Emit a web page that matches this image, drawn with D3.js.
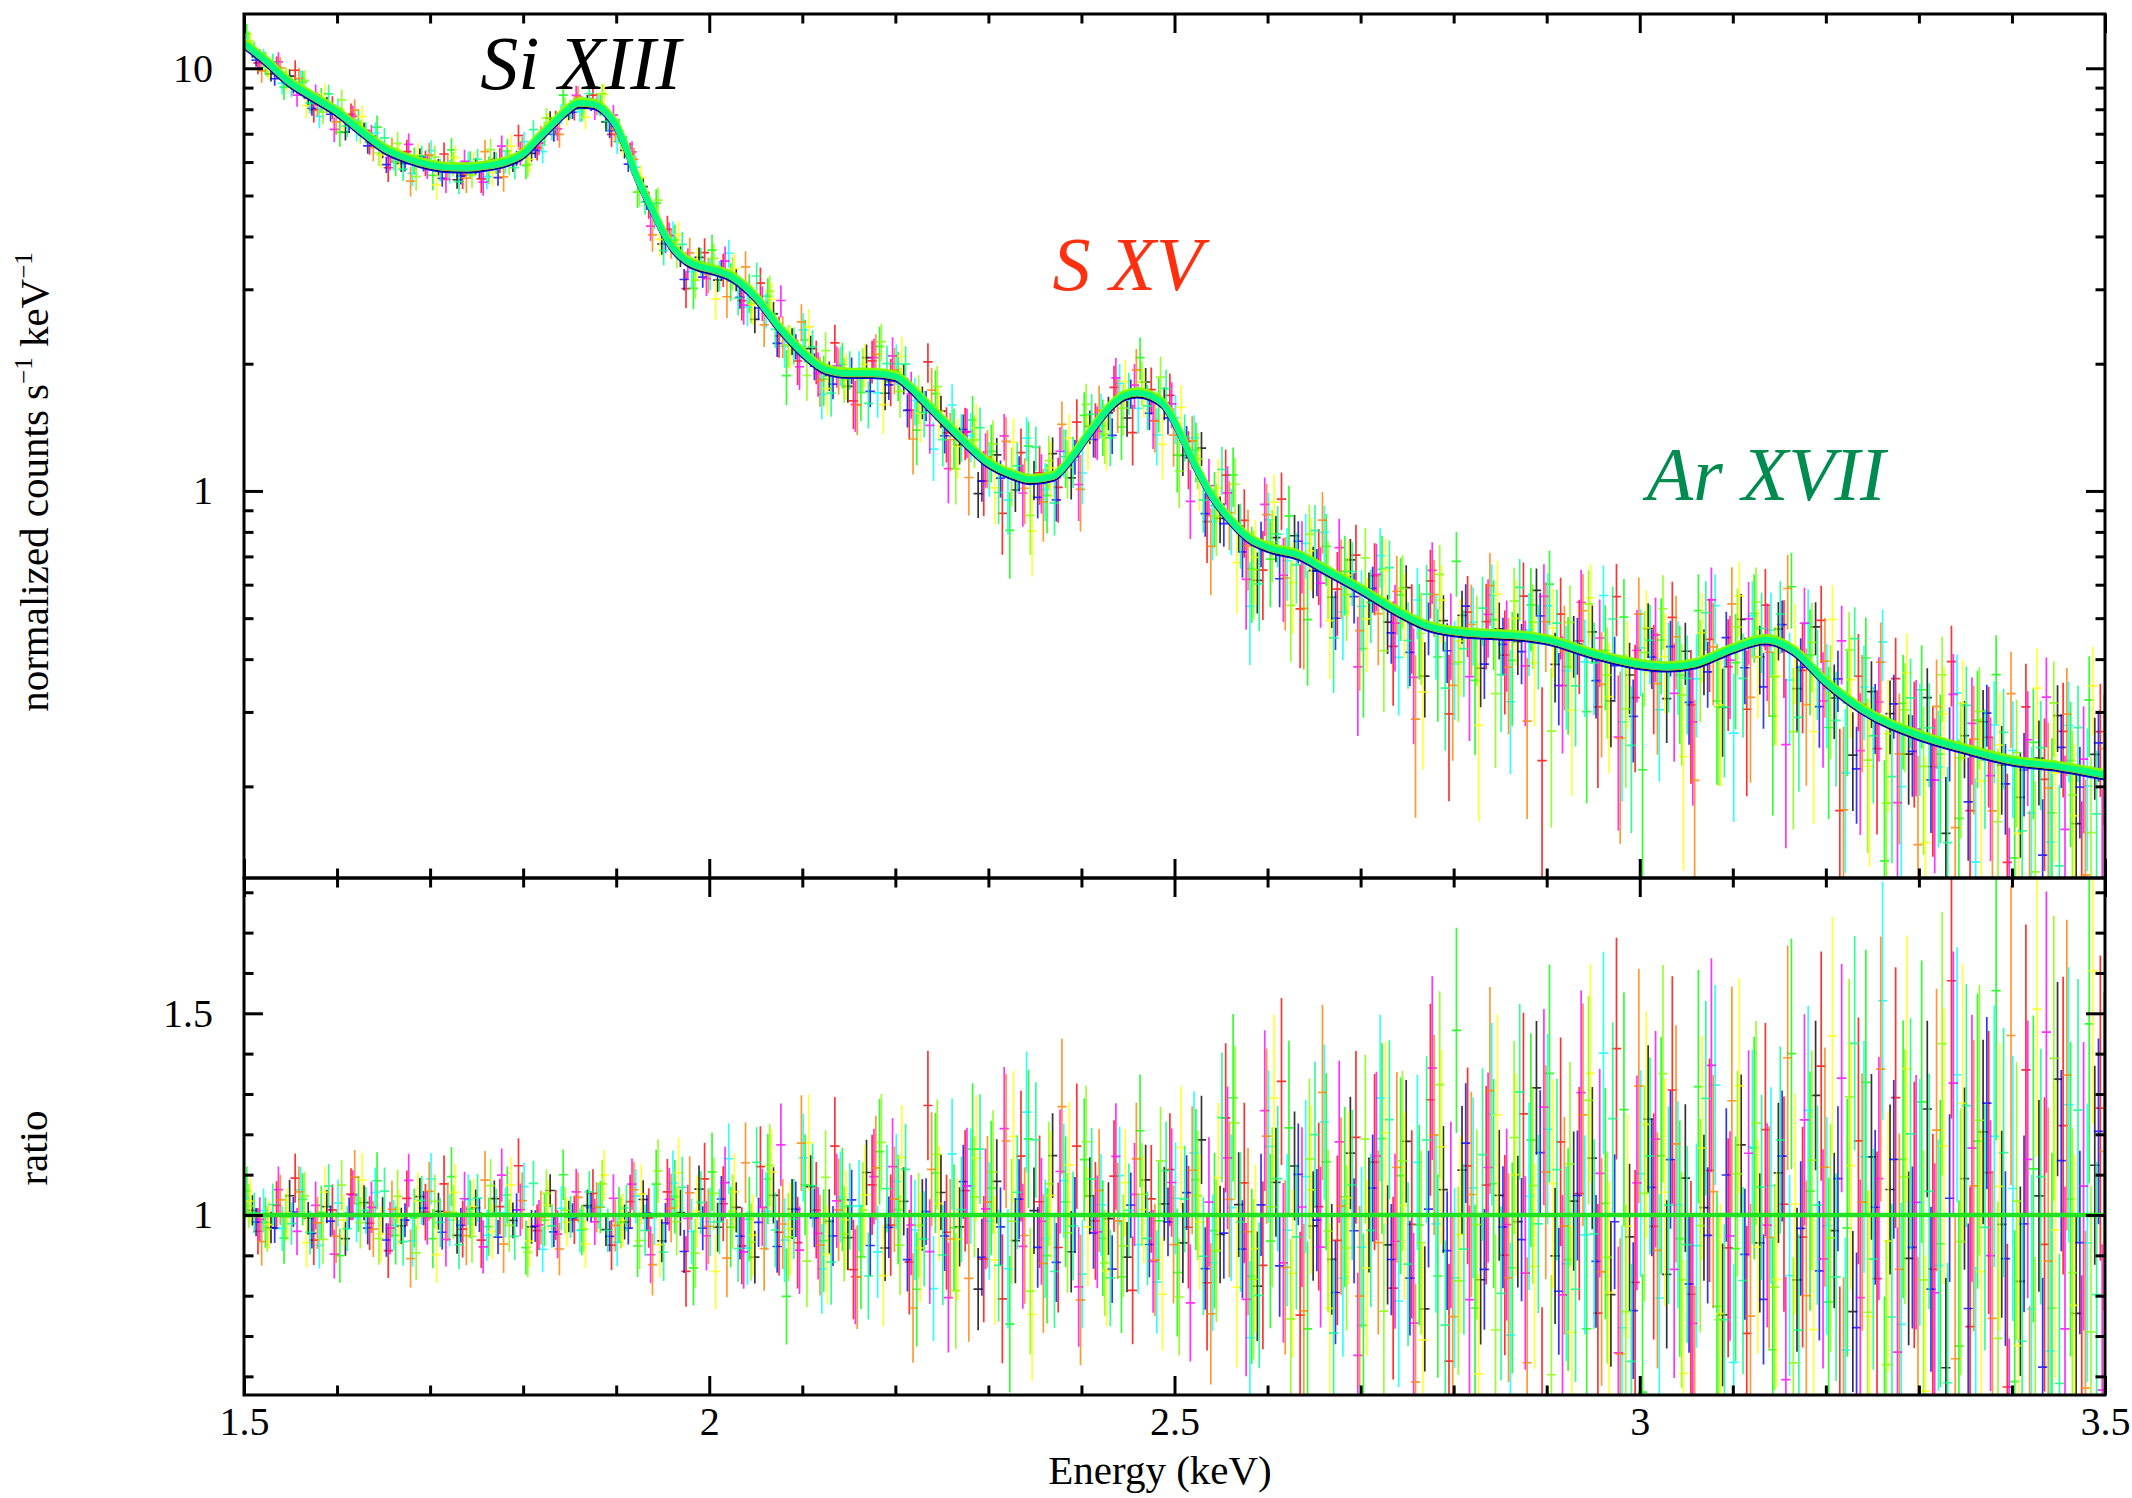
<!DOCTYPE html>
<html><head><meta charset="utf-8">
<script src="https://cdn.jsdelivr.net/npm/d3@7"></script>
<style>
body{margin:0;background:#fff}
svg text{font-family:"Liberation Serif","Times New Roman",Times,serif}
</style>
</head><body>
<svg id="c" width="2132" height="1498"></svg>
<script>
// ---------- fitted model (normalized counts s^-1 keV^-1) ----------
const modelEnergy = [1.50,1.525,1.547,1.575,1.60,1.625,1.65,1.675,1.70,1.72,1.74,1.76,1.78,1.80,1.815,1.83,1.845,1.86,1.875,1.89,1.90,1.91,1.92,1.93,1.94,1.95,1.96,1.975,1.99,2.00,2.025,2.05,2.075,2.10,2.125,2.15,2.175,2.20,2.215,2.23,2.25,2.27,2.30,2.325,2.345,2.37,2.39,2.41,2.43,2.445,2.46,2.475,2.49,2.50,2.52,2.54,2.56,2.58,2.60,2.635,2.66,2.70,2.74,2.77,2.80,2.84,2.88,2.90,2.95,3.00,3.03,3.06,3.10,3.135,3.165,3.20,3.24,3.30,3.35,3.40,3.45,3.50];
const modelFlux = [11.4,10.3,9.3,8.5,7.86,7.1,6.45,6.1,5.88,5.8,5.79,5.85,5.97,6.25,6.75,7.29,7.85,8.24,8.2,7.8,7.29,6.5,5.65,5.05,4.55,4.1,3.77,3.5,3.38,3.34,3.19,2.86,2.43,2.12,1.93,1.89,1.89,1.86,1.76,1.63,1.47,1.33,1.16,1.09,1.06,1.08,1.2,1.38,1.57,1.67,1.70,1.67,1.58,1.45,1.17,0.97,0.85,0.77,0.733,0.70,0.652,0.583,0.516,0.479,0.463,0.456,0.450,0.443,0.41,0.387,0.382,0.389,0.422,0.443,0.418,0.352,0.302,0.263,0.244,0.229,0.222,0.212];

// ---------- spectral bins (keV) and typical relative 1-sigma error per bin ----------
const binEnergy = [1.51,1.53,1.55,1.57,1.59,1.61,1.63,1.65,1.67,1.69,
1.71,1.73,1.75,1.77,1.79,1.81,1.83,1.85,1.87,1.89,
1.91,1.93,1.95,1.97,1.99,2.01,2.03,2.05,2.07,2.09,
2.11,2.13,2.15,2.17,2.19,2.21,2.23,2.25,2.27,2.29,
2.31,2.33,2.35,2.37,2.39,2.41,2.43,2.45,2.47,2.49,
2.51,2.53,2.55,2.57,2.59,2.61,2.63,2.65,2.67,2.69,
2.71,2.73,2.75,2.77,2.79,2.81,2.83,2.85,2.87,2.89,
2.91,2.93,2.95,2.97,2.99,3.01,3.03,3.05,3.07,3.09,
3.11,3.13,3.15,3.17,3.19,3.21,3.23,3.25,3.27,3.29,
3.31,3.33,3.35,3.37,3.39,3.41,3.43,3.45,3.47,3.49];
const binRelErr = [.050,.052,.053,.054,.055,.056,.058,.059,.060,.061,
.061,.061,.060,.060,.059,.056,.054,.052,.052,.054,
.058,.064,.071,.076,.078,.081,.083,.087,.093,.099,
.104,.106,.107,.108,.109,.113,.118,.124,.131,.136,
.139,.141,.143,.140,.135,.127,.120,.116,.116,.122,
.132,.146,.161,.173,.181,.180,.180,.181,.183,.186,
.190,.197,.203,.207,.210,.212,.214,.216,.218,.221,
.225,.230,.235,.239,.242,.244,.245,.244,.241,.236,
.232,.230,.232,.238,.247,.257,.266,.274,.281,.287,
.292,.297,.301,.305,.309,.313,.317,.321,.325,.329];
const binHalfWidth = 0.005;

// ---------- data sets ----------
const datasetColors = ["#000000","#ff0000","#00ff00","#0000ff","#00ffff","#ff00ff","#ffff00","#ff8000","#80ff00","#00ff80"];
const datasetErrScale = [0.75,1.15,1.2,0.7,1.05,1.1,1.15,1.2,1.1,1.0];
const datasetModelNorm = [0.99,1.0,1.01,0.984,0.997,1.0,1.004,1.0,1.018,1.004];
const datasetBinShift = [-0.001,0.005,-0.007,0.003,-0.009,0.007,-0.003,0.009,-0.005,0.001];
// residuals per bin, in tenths of sigma
const residuals = [
"3 -8 12 -2 5 -14 7 0 -6 10 2 -11 4 9 -3 -7 15 -1 6 -9 -4 8 -12 1 11 -5 3 -16 7 2 9 -2 -7 13 -10 4 0 6 -3 -18 8 -6 1 14 -9 5 -1 -12 10 3 -7 17 -4 2 -13 6 9 -2 -8 11 0 -5 12 -15 4 7 -10 3 -1 19 -6 2 8 -11 -3 13 -8 5 1 -14 10 -4 6 -9 16 -2 -12 7 3 -5 12 -17 4 9 -1 -7 2 14 -10 5",
"-7 4 15 -10 2 8 -3 -13 6 1 11 -5 -9 3 18 -6 0 -2 9 -12 5 -1 7 -16 10 3 -8 12 -4 -6 1 14 -11 6 -2 -9 20 -3 4 -7 -13 9 2 -5 11 -1 7 -14 3 8 -2 -10 13 4 -6 16 -12 1 -3 9 6 -8 -1 12 -15 5 3 -4 10 -19 7 2 -9 15 -6 -1 11 -7 4 -3 -11 8 1 -2 13 -16 6 -5 9 0 -4 17 -8 3 -12 10 -2 6 -14 7",
"10 -3 -9 6 1 -15 4 12 -7 -1 -8 13 2 -4 7 -12 -2 16 -6 3 0 -10 9 5 -14 11 -3 -1 8 -17 6 -5 3 -8 12 1 -13 7 -2 10 4 -16 11 -6 2 9 -4 -11 15 -1 -9 5 -2 14 -7 -3 10 -13 6 2 -12 8 4 -1 -6 18 -9 3 -5 7 13 -4 -10 1 9 -15 5 -2 11 -8 -3 6 -12 14 2 -7 -1 10 -16 4 8 -2 -9 5 15 -11 3 -6 1 12",
"-5 -9 2 -12 -4 1 -8 -15 -3 4 -10 -6 0 -13 3 -7 -11 -2 5 -14 -8 1 -4 -17 -6 7 -9 -3 -12 2 -1 -7 5 -10 -4 -14 1 -6 9 -11 -3 4 -8 -12 0 -5 -16 3 -9 -2 6 -13 -4 -7 2 -10 8 -1 -15 -3 5 -8 -11 1 -6 12 -9 -2 -4 10 -12 3 -7 -1 -14 4 8 -10 -3 6 -6 -13 9 -2 -8 5 -15 1 7 -4 -9 2 -11 13 -5 -1 -17 6 -3 9",
"8 2 -6 11 -13 5 -1 9 -4 -10 14 -2 6 -8 1 12 -15 3 -7 4 -11 7 0 10 -5 -2 16 -9 1 -6 13 -12 4 2 -8 7 -3 -14 11 5 -1 -9 17 -4 6 -11 2 8 -6 -13 3 10 -7 1 -16 9 -2 5 12 -8 -4 14 -10 6 -1 -7 3 11 -13 2 9 -5 -2 16 -11 4 -8 1 -3 13 -15 7 3 -6 10 -1 -12 5 18 -9 1 -4 11 -14 6 2 -7 -10 8 -2",
"-2 11 -7 4 -16 8 3 -5 13 -1 -9 6 -12 15 2 -4 -8 10 -3 7 12 -14 5 -1 -6 9 -10 2 17 -8 -4 3 -13 8 10 -2 -7 -15 5 1 14 -5 -1 7 -12 -3 11 4 -9 6 -15 2 8 -11 13 -6 1 -4 9 -17 7 -3 -12 16 0 -9 5 -1 -6 11 -8 12 4 -13 3 7 -5 -10 14 -2 6 -1 -16 9 -4 12 -7 3 -11 1 -6 10 5 -3 -19 4 13 -8 2 -12",
"6 -4 1 -11 9 -2 13 -7 -1 5 -14 8 3 -6 11 -10 4 -3 -12 16 -2 7 -9 12 1 -15 6 -5 10 -3 15 -8 -1 4 -12 11 -6 2 -4 9 -7 12 -15 3 8 -2 -10 6 1 -14 11 -1 5 -9 -4 14 -7 3 -11 2 -6 9 1 -13 7 -2 -16 10 4 -5 3 -11 13 -7 -1 8 2 -14 6 -9 12 -3 -6 1 -10 15 4 -8 -2 11 -13 5 8 -4 2 -9 14 -1 -6 16",
"-11 6 9 -3 -8 14 -5 2 -15 8 1 -7 12 -10 5 -1 -13 7 3 -4 9 -16 2 6 -3 -11 13 -8 -2 15 -6 1 -12 9 3 -17 8 -4 -10 2 11 -3 -7 16 -13 4 -1 10 -8 -5 7 -14 2 -2 9 -6 -11 14 1 -9 -3 5 -17 8 -10 2 12 -6 -14 4 -1 9 -5 -12 11 -3 6 -16 2 10 -9 -2 14 -7 4 -15 1 11 -4 -13 6 -10 2 -7 12 -16 -3 9 -11 4",
"4 -6 -1 8 -10 12 -3 -9 7 -14 5 1 -8 11 -4 -15 9 2 -6 13 -3 -9 14 -2 -11 6 1 -7 12 -5 -10 8 -4 1 15 -6 -2 11 -13 3 7 -1 -12 5 -3 13 -9 -6 4 10 -14 3 -5 12 -8 1 -13 7 -2 -4 9 -11 6 -3 14 -7 -1 -12 8 3 -16 5 11 -4 -9 2 13 -6 -1 -10 4 9 -7 -14 5 -2 10 -8 -12 3 -5 13 -2 7 -9 1 -13 11 -4 -8",
"1 5 -4 -8 13 -6 2 10 -11 6 -3 -12 7 1 -9 14 -5 -1 11 -7 3 -6 -13 9 4 -2 -10 15 -4 -1 7 -11 2 -14 6 10 -5 -8 1 12 -9 4 13 -10 -2 7 -13 1 -5 9 3 -7 15 -1 -11 5 -3 11 -16 4 -2 12 -6 9 -13 -4 7 -9 14 -1 5 -8 -2 10 -15 6 1 -3 12 -11 -7 3 8 -12 1 -6 16 -4 -9 7 2 -14 9 -1 5 -10 3 -13 8 -6"
];

// ---------- axes and annotations ----------
const xMajor = [1.5,2,2.5,3,3.5];
const xMinor = [1.6,1.7,1.8,1.9,2.1,2.2,2.3,2.4,2.6,2.7,2.8,2.9,3.1,3.2,3.3,3.4];
const fluxMajor = [1,10];
const fluxMinor = [0.2,0.3,0.4,0.5,0.6,0.7,0.8,0.9,2,3,4,5,6,7,8,9];
const ratioMajor = [1,1.5];
const ratioMinor = [0.6,0.7,0.8,0.9,1.1,1.2,1.3,1.4,1.6,1.7,1.8];
const lineLabels = ["Si XIII","S XV","Ar XVII"];
const lineLabelEnergy = [1.754,2.369,3.0075];
const lineLabelFlux = [8.93,2.99,0.951];
const lineLabelColors = ["#000000","#ff3010","#008c50"];

// ---------- layout ----------
const L=244, R=2105, T=14, M=878, B=1395;
const svg = d3.select("#c");
const x = d3.scaleLinear().domain([1.5,3.5]).range([L,R]);
const yTop = d3.scaleLog().domain([0.1214,13.44]).range([M,T]);
const yRat = d3.scaleLinear().domain([0.5538,1.8354]).range([B,M]);
const modelLog = d3.scaleLinear().domain(modelEnergy).range(modelFlux.map(Math.log10)).clamp(true);

const defs = svg.append("defs");
defs.append("clipPath").attr("id","clipTop").append("rect").attr("x",L).attr("y",T).attr("width",R-L).attr("height",M-T);
defs.append("clipPath").attr("id","clipBot").append("rect").attr("x",L).attr("y",M).attr("width",R-L).attr("height",B-M);

const gTop = svg.append("g").attr("clip-path","url(#clipTop)");
const gBot = svg.append("g").attr("clip-path","url(#clipBot)");

const sets = residuals.map((str,k)=>{
  const z = str.trim().split(/\s+/).map(Number);
  return binEnergy.map((e,i)=>{
    if (z[i]===undefined || isNaN(z[i])) return null;
    const E = e + datasetBinShift[k];
    const s = binRelErr[i]*datasetErrScale[k];
    const r = 1 + z[i]/10*s;
    const m = datasetModelNorm[k]*Math.pow(10, modelLog(E));
    return {E, r, s, m};
  }).filter(d=>d);
});

sets.forEach((pts,k)=>{
  let dTop = "", dBot = "";
  pts.forEach(p=>{
    const px = x(p.E), x0 = x(p.E-binHalfWidth), x1 = x(p.E+binHalfWidth);
    const c = p.m*p.r, lo = Math.max(p.m*(p.r-p.s), 0.01), hi = p.m*(p.r+p.s);
    dTop += `M${px},${yTop(lo)}V${yTop(hi)}M${x0},${yTop(c)}H${x1}`;
    dBot += `M${px},${yRat(p.r-p.s)}V${yRat(p.r+p.s)}M${x0},${yRat(p.r)}H${x1}`;
  });
  gTop.append("path").attr("d",dTop).attr("fill","none").attr("stroke",datasetColors[k]).attr("stroke-width",1.7).attr("stroke-opacity",0.8);
  gBot.append("path").attr("d",dBot).attr("fill","none").attr("stroke",datasetColors[k]).attr("stroke-width",1.7).attr("stroke-opacity",0.8);
});

// model curves (dark ones first, green ones on top)
const order = [3,0,5,1,4,6,7,2,8,9];
const modelWidth = [4,5,5,4,5,5,5,5.5,6,6];
order.forEach(k=>{
  const line = d3.line().x(d=>x(d[0])).y(d=>yTop(d[1]*datasetModelNorm[k])).curve(d3.curveMonotoneX);
  gTop.append("path").datum(modelEnergy.map((e,i)=>[e,modelFlux[i]]))
    .attr("d",line).attr("fill","none").attr("stroke",datasetColors[k]).attr("stroke-width",modelWidth[k]);
});
gBot.append("line").attr("x1",L).attr("x2",R).attr("y1",yRat(1)).attr("y2",yRat(1))
  .attr("stroke","#22e022").attr("stroke-width",4.5);

// annotations
lineLabels.forEach((t,i)=>{
  svg.append("text").attr("x",x(lineLabelEnergy[i])).attr("y",yTop(lineLabelFlux[i]))
    .attr("font-size",76).attr("font-style","italic").attr("fill",lineLabelColors[i]).text(t);
});

// axes helpers
function styleAxis(g, fs){
  g.select(".domain").remove();
  g.selectAll(".tick line").attr("stroke","#000").attr("stroke-width",3);
  g.selectAll(".tick text").attr("fill","#000").attr("font-size",fs)
    .attr("font-family",'"Liberation Serif","Times New Roman",serif');
  g.attr("font-family",null).attr("font-size",null);
}
function addAxis(axisFn, scale, tr, vals, size, labels, pad){
  const a = axisFn(scale).tickValues(vals).tickSize(-size).tickPadding(pad||0);
  a.tickFormat(labels ? d3.format("") : "");
  const g = svg.append("g").attr("transform",tr).call(a);
  styleAxis(g, 40);
  return g;
}
// top panel
addAxis(d3.axisTop, x, `translate(0,${T})`, xMajor, 19, false);
addAxis(d3.axisTop, x, `translate(0,${T})`, xMinor, 9.5, false);
addAxis(d3.axisBottom, x, `translate(0,${M})`, xMajor, 19, false);
addAxis(d3.axisBottom, x, `translate(0,${M})`, xMinor, 9.5, false);
addAxis(d3.axisLeft, yTop, `translate(${L},0)`, fluxMajor, 19, true, 31);
addAxis(d3.axisLeft, yTop, `translate(${L},0)`, fluxMinor, 9.5, false);
addAxis(d3.axisRight, yTop, `translate(${R},0)`, fluxMajor, 19, false);
addAxis(d3.axisRight, yTop, `translate(${R},0)`, fluxMinor, 9.5, false);
// bottom panel
addAxis(d3.axisTop, x, `translate(0,${M})`, xMajor, 19, false);
addAxis(d3.axisTop, x, `translate(0,${M})`, xMinor, 9.5, false);
addAxis(d3.axisBottom, x, `translate(0,${B})`, xMajor, 19, true, 12);
addAxis(d3.axisBottom, x, `translate(0,${B})`, xMinor, 9.5, false);
addAxis(d3.axisLeft, yRat, `translate(${L},0)`, ratioMajor, 19, true, 31);
addAxis(d3.axisLeft, yRat, `translate(${L},0)`, ratioMinor, 9.5, false);
addAxis(d3.axisRight, yRat, `translate(${R},0)`, ratioMajor, 19, false);
addAxis(d3.axisRight, yRat, `translate(${R},0)`, ratioMinor, 9.5, false);

// frames
svg.append("rect").attr("x",L).attr("y",T).attr("width",R-L).attr("height",M-T).attr("fill","none").attr("stroke","#000").attr("stroke-width",3);
svg.append("rect").attr("x",L).attr("y",M).attr("width",R-L).attr("height",B-M).attr("fill","none").attr("stroke","#000").attr("stroke-width",3);

// axis titles
svg.append("text").attr("x",1160).attr("y",1484).attr("text-anchor","middle").attr("font-size",41).text("Energy (keV)");
const yl = svg.append("text").attr("transform","translate(48,482) rotate(-90)").attr("text-anchor","middle").attr("font-size",41);
yl.append("tspan").text("normalized counts s");
yl.append("tspan").attr("font-size",25).attr("dy",-16).text("\u22121");
yl.append("tspan").attr("dy",16).text(" keV");
yl.append("tspan").attr("font-size",25).attr("dy",-16).text("\u22121");
svg.append("text").attr("transform","translate(47,1148) rotate(-90)").attr("text-anchor","middle").attr("font-size",41).text("ratio");
</script>
</body></html>
